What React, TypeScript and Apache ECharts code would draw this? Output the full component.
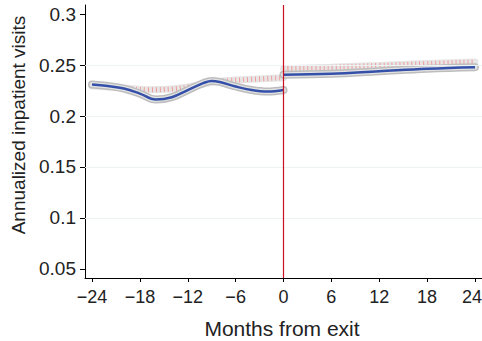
import React, { useEffect, useRef } from "react";
import * as echarts from "echarts";

const monthsPre = [-24, -22, -20, -18, -16, -14, -12, -10, -9, -8, -6, -4, -2, 0];
const bluePre = [0.231, 0.2295, 0.227, 0.222, 0.2162, 0.2185, 0.2255, 0.2325, 0.2345, 0.2335, 0.229, 0.2255, 0.224, 0.2255];
const monthsPost = [0, 6, 12, 18, 24];
const bluePost = [0.2405, 0.2415, 0.244, 0.2465, 0.248];
const trendMonthsPre = [-24, -20, -17, -14, -12, -8, -4, 0];
const trendPre = [0.2295, 0.2275, 0.2258, 0.2265, 0.2285, 0.234, 0.236, 0.2376];
const trendMonthsPost = [0, 6, 12, 18, 24];
const trendPost = [0.2465, 0.248, 0.2497, 0.2515, 0.253];
const xTicks = [-24, -18, -12, -6, 0, 6, 12, 18, 24];
const yTicks = [0.05, 0.1, 0.15, 0.2, 0.25, 0.3];
const gridValues = [0.1, 0.15, 0.2, 0.25];
const exitMonth = 0;

const pairs = (xs: number[], ys: number[]) => xs.map((x, i) => [x, ys[i]]);

export default function App() {
  const ref = useRef<HTMLDivElement>(null);
  useEffect(() => {
    if (!ref.current) return;
    const chart = echarts.init(ref.current, null, { renderer: "svg" });
    const font = "'Liberation Sans', Arial, Helvetica, sans-serif";
    const band = (name: string, xs: number[], ys: number[], color: string, width: number) => ({
      name,
      type: "line",
      data: pairs(xs, ys),
      smooth: 0.4,
      symbol: "none",
      lineStyle: { color, width, cap: "round" },
      silent: true,
    });
    const lastTick = xTicks[xTicks.length - 1];
    const yMin = 0.041;
    const yMax = 0.309;
    chart.setOption({
      animation: false,
      grid: { left: 85, right: 0, top: 5, bottom: 63, containLabel: false, outerBoundsMode: "none" },
      xAxis: {
        type: "value",
        min: -24.88,
        max: 24.88,
        axisLine: { show: true, onZero: false, lineStyle: { color: "#000", width: 1 } },
        axisTick: { show: true, customValues: xTicks, length: 4, lineStyle: { color: "#000" } },
        axisLabel: {
          customValues: xTicks,
          fontSize: 18,
          fontFamily: font,
          color: "#222",
          margin: 10,
          formatter: (v: number) =>
            v === lastTick ? "{r|" + String(v) + "}" : String(v).replace("-", "\u2212"),
          rich: {
            r: { fontSize: 18, fontFamily: font, color: "#222", padding: [0, 6, 0, 0] },
          },
        },
        splitLine: { show: false },
      },
      yAxis: {
        type: "value",
        min: yMin,
        max: yMax,
        axisLine: { show: true, onZero: false, lineStyle: { color: "#000", width: 1 } },
        axisTick: { show: true, customValues: yTicks, length: 5, lineStyle: { color: "#000" } },
        axisLabel: {
          customValues: yTicks,
          fontSize: 19,
          fontFamily: font,
          color: "#222",
          margin: 9,
          formatter: (v: number) => String(+v.toFixed(2)),
        },
        splitLine: { show: false },
      },
      graphic: [
        {
          type: "text",
          x: 18,
          y: 125,
          rotation: Math.PI / 2,
          style: {
            text: "Annualized inpatient visits",
            fontSize: 19,
            fontFamily: font,
            fill: "#222",
            align: "center",
            verticalAlign: "middle",
          },
        },
        {
          type: "text",
          x: 282,
          y: 328,
          style: {
            text: "Months from exit",
            fontSize: 21,
            fontFamily: font,
            fill: "#222",
            align: "center",
            verticalAlign: "middle",
          },
        },
      ],
      series: [
        {
          type: "line",
          data: [],
          silent: true,
          markLine: {
            silent: true,
            symbol: "none",
            label: { show: false },
            lineStyle: { color: "#edf2f4", width: 1, type: "solid" },
            data: gridValues.map((v) => ({ yAxis: v })),
          },
        },
        band("trendBandPre", trendMonthsPre, trendPre, "#e6e6e6", 7),
        band("trendBandPost", trendMonthsPost, trendPost, "#e6e6e6", 7),
        {
          type: "line",
          data: pairs(trendMonthsPre, trendPre),
          smooth: 0.4,
          symbol: "none",
          silent: true,
          lineStyle: { color: "#f29a9a", width: 5, type: [1, 3] },
        },
        {
          type: "line",
          data: pairs(trendMonthsPost, trendPost),
          smooth: 0.4,
          symbol: "none",
          silent: true,
          lineStyle: { color: "#f29a9a", width: 5, type: [1, 3] },
        },
        band("ciPre", monthsPre, bluePre, "#bdbdbd", 8),
        band("ciPost", monthsPost, bluePost, "#bdbdbd", 8),
        band("ciPreIn", monthsPre, bluePre, "#e3e3e3", 5),
        band("ciPostIn", monthsPost, bluePost, "#e3e3e3", 5),
        {
          type: "line",
          data: pairs(monthsPre, bluePre),
          smooth: 0.4,
          symbol: "none",
          silent: true,
          lineStyle: { color: "#3550a8", width: 2.5 },
        },
        {
          type: "line",
          data: pairs(monthsPost, bluePost),
          smooth: 0.4,
          symbol: "none",
          silent: true,
          lineStyle: { color: "#3550a8", width: 2.5 },
        },
        {
          name: "exit",
          type: "line",
          data: [
            [exitMonth, yMin],
            [exitMonth, yMax],
          ],
          symbol: "none",
          silent: true,
          z: 5,
          lineStyle: { color: "#cc1020", width: 1.2 },
        },
      ],
    });
    return () => chart.dispose();
  }, []);
  return <div ref={ref} style={{ width: 482, height: 341, position: "absolute", left: 0, top: 0 }} />;
}
